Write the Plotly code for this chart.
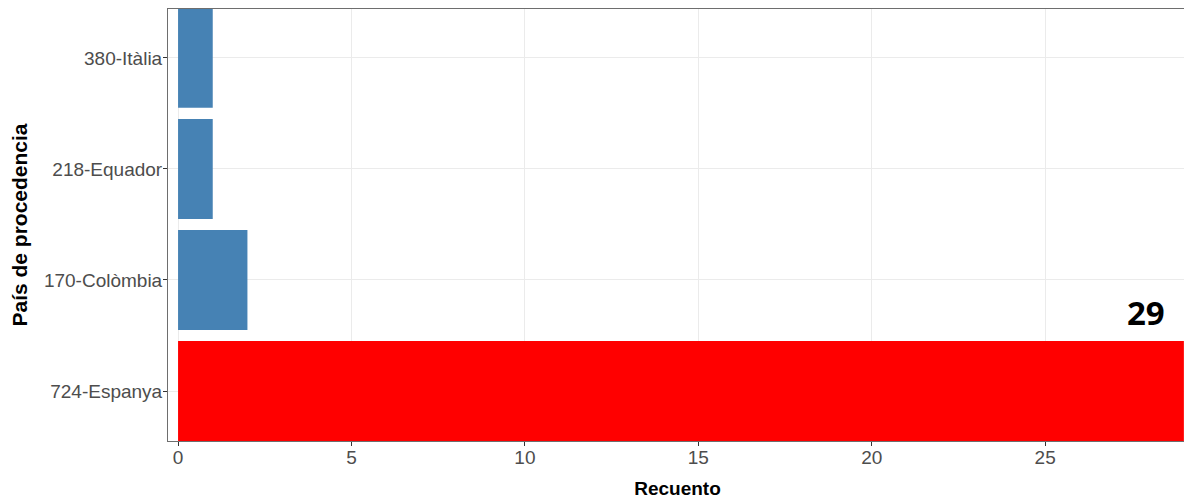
import plotly.graph_objects as go

categories = ["724-Espanya", "170-Colòmbia", "218-Equador", "380-Itàlia"]
counts = [29, 2, 1, 1]
bar_colors = ["#FF0000", "#4682B4", "#4682B4", "#4682B4"]
x_ticks = [0, 5, 10, 15, 20, 25]
highlight_label = "29"

fig = go.Figure()
fig.add_trace(go.Bar(
    y=categories, x=counts, orientation="h", width=0.9,
    marker=dict(color=bar_colors, line=dict(width=0)),
    hoverinfo="x+y",
))

fig.add_annotation(
    x=27.9, y=0.71, xref="x", yref="y", text=f"<b>{highlight_label}</b>",
    showarrow=False, font=dict(family="Open Sans, Carlito, sans-serif", size=33, color="#000000"),
)

axis_common = dict(
    showline=True, linecolor="#6e6e6e", linewidth=1, mirror=True,
    showgrid=True, gridcolor="#EBEBEB", gridwidth=1,
    ticks="outside", ticklen=4, tickcolor="#333333", tickwidth=1,
    tickfont=dict(family="Liberation Sans, Arial, sans-serif", size=19, color="#4D4D4D"),
    zeroline=False,
)

fig.update_layout(
    width=1184, height=494,
    margin=dict(l=160, r=5, t=1, b=61),
    plot_bgcolor="white", paper_bgcolor="white",
    showlegend=False,
    bargap=0.1,
    xaxis=dict(
        **axis_common,
        range=[-0.29, 29.09],
        tickvals=x_ticks,
        ticklabelstandoff=-5,
        title=dict(text="<b>Recuento</b>", standoff=14,
                   font=dict(family="Liberation Sans, Arial, sans-serif", size=19, color="#000000")),
    ),
    yaxis=dict(
        **axis_common,
        type="category",
        categoryorder="array", categoryarray=categories,
        range=[-0.45, 3.44],
        ticklabelstandoff=-3,
        title=dict(text="<b>País de procedencia</b>", standoff=12,
                   font=dict(family="Liberation Sans, Arial, sans-serif", size=21, color="#000000")),
    ),
)

fig.write_html("out.html")
